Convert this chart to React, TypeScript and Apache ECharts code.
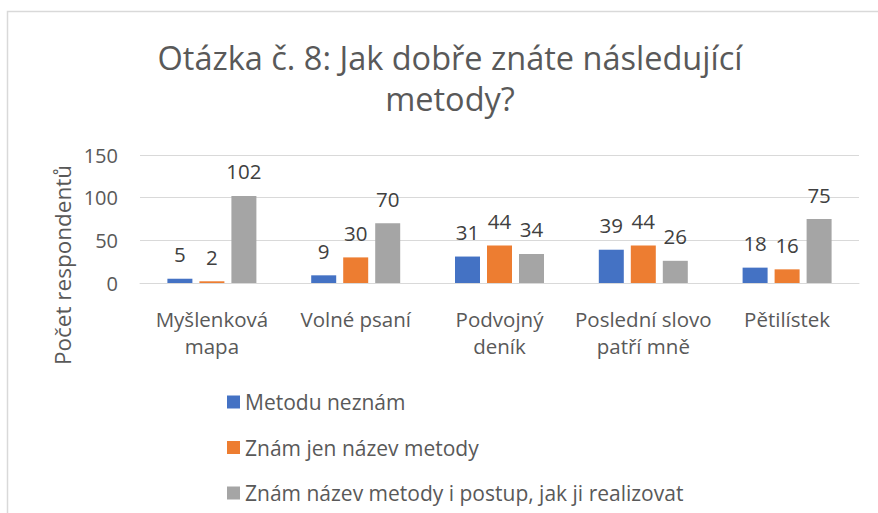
import React, { useEffect, useRef } from "react";
import * as echarts from "echarts";

const categories = [
  "Myšlenková\nmapa",
  "Volné psaní",
  "Podvojný\ndeník",
  "Poslední slovo\npatří mně",
  "Pětilístek",
];
const seriesNames = [
  "Metodu neznám",
  "Znám jen název metody",
  "Znám název metody i postup, jak ji realizovat",
];
const metoduNeznam = [5, 9, 31, 39, 18];
const znamJenNazev = [2, 30, 44, 44, 16];
const znamNazevIPostup = [102, 70, 34, 26, 75];
const colors = ["#4472C4", "#ED7D31", "#A5A5A5"];
const yTicks = { min: 0, max: 150, interval: 50 };

const FONT = "'Open Sans', 'Noto Sans', sans-serif";

export default function App() {
  const ref = useRef<HTMLDivElement>(null);
  useEffect(() => {
    if (!ref.current) return;
    const chart = echarts.init(ref.current, null, { renderer: "svg" });
    const values = [metoduNeznam, znamJenNazev, znamNazevIPostup];
    chart.setOption({
      animation: false,
      backgroundColor: "#ffffff",
      textStyle: { fontFamily: FONT },
      title: {
        text: "Otázka č. 8: Jak dobře znáte následující\nmetody?",
        left: 445,
        textAlign: "center",
        top: 32,
        textStyle: {
          fontFamily: FONT,
          fontSize: 32.5,
          fontWeight: "normal",
          color: "#595959",
          lineHeight: 41,
        },
      },
      grid: { left: 140, right: 19, top: 155, bottom: 230, containLabel: false },
      xAxis: {
        type: "category",
        data: categories,
        axisLine: { show: true, lineStyle: { color: "#D9D9D9", width: 1 } },
        axisTick: { show: false },
        axisLabel: {
          fontFamily: FONT,
          fontSize: 20.5,
          color: "#595959",
          lineHeight: 27,
          margin: 22,
          interval: 0,
        },
      },
      yAxis: {
        type: "value",
        min: yTicks.min,
        max: yTicks.max,
        interval: yTicks.interval,
        axisLine: { show: false },
        axisTick: { show: false },
        splitLine: { lineStyle: { color: "#D9D9D9", width: 1 } },
        axisLabel: { fontFamily: FONT, fontSize: 20, color: "#595959", margin: 22 },
      },
      legend: {
        orient: "vertical",
        left: 222,
        top: 385,
        itemWidth: 13,
        itemHeight: 13,
        itemGap: 21.5,
        icon: "rect",
        textStyle: { fontFamily: FONT, fontSize: 21, color: "#595959", lineHeight: 24 },
        data: seriesNames,
      },
      graphic: [
        {
          type: "rect",
          shape: { x: 7.5, y: 11.5, width: 1000, height: 1000 },
          style: { fill: "none", stroke: "#D9D9D9", lineWidth: 1.5 },
          silent: true,
        },
        {
          type: "text",
          x: 62,
          y: 265,
          rotation: Math.PI / 2,
          style: {
            text: "Počet respondentů",
            fontFamily: FONT,
            fontSize: 22.5,
            fill: "#595959",
            align: "center",
            verticalAlign: "middle",
          },
        },
      ],
      series: seriesNames.map((name, i) => ({
        name,
        type: "bar",
        data: values[i],
        barWidth: 25,
        barGap: "28%",
        itemStyle: { color: colors[i] },
        label: {
          show: true,
          position: "top",
          distance: 14,
          fontFamily: FONT,
          fontSize: 20.5,
          color: "#404040",
        },
      })),
    });
    return () => chart.dispose();
  }, []);
  return (
    <div
      ref={ref}
      style={{ position: "fixed", left: 0, top: 0, width: 878, height: 513 }}
    />
  );
}
